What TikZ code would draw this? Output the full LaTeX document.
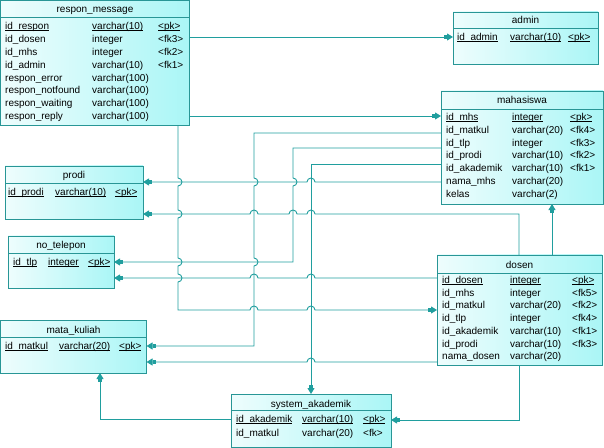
\documentclass[tikz,border=0pt]{standalone}
\usepackage{fontspec}
\setmainfont{Liberation Sans}
\usetikzlibrary{arrows.meta}
\definecolor{ln}{RGB}{32,158,158}
\definecolor{bd}{RGB}{40,150,150}
\definecolor{fa}{RGB}{238,253,253}
\definecolor{fb}{RGB}{170,246,246}
\newlength\ulw
\newcommand{\ul}[1]{\settowidth{\ulw}{#1}\rlap{\rule[-1.6bp]{\ulw}{0.7bp}}#1}
% table box: name, x, y, w, h, separator offset, title baseline, title
\newcommand{\ertable}[8]{%
  \node[tbl, minimum width=#4bp, minimum height=#5bp] (#1) at (#2,#3) {};
  \draw[bd, line width=0.9bp] ([yshift=-#6bp]#1.north west) -- ([yshift=-#6bp]#1.north east);
  \node[ttl] (#1-t) at (#1.north |- 0,#7) {#8};}
% row: prefix, index, baseline, x1, x2, x3, name, type, key
\newcommand{\erowk}[9]{%
  \node[cell] (#1-#2a) at (#4,#3) {#7};
  \node[cell] (#1-#2b) at (#5,#3) {#8};
  \node[cell] (#1-#2c) at (#6,#3) {#9};}
\newcommand{\erow}[7]{%
  \node[cell] (#1-#2a) at (#4,#3) {#6};
  \node[cell] (#1-#2b) at (#5,#3) {#7};}
\begin{document}
\begin{tikzpicture}[x=1bp,y=-1bp,
  tbl/.style={draw=bd, line width=0.9bp, left color=fa, right color=fb, anchor=north west, inner sep=0pt, outer sep=0pt},
  ttl/.style={anchor=base, inner sep=0pt, font=\fontsize{10bp}{12bp}\selectfont},
  cell/.style={anchor=base west, inner sep=0pt, font=\fontsize{10bp}{12bp}\selectfont},
  fk/.style={draw=ln, line width=0.9bp, -{Rectangle[length=3bp,width=4bp,fill=ln]Triangle[length=6bp,width=7bp,fill=ln]}},
  hop/.style={}]
\useasboundingbox (0,0) rectangle (604,448);

% ---------- respon_message
\ertable{rm}{0.5}{0.5}{189}{125}{17}{12.5}{respon\_message}
\erowk{rm}{1}{29.5}{5}{92}{158}{\ul{id\_respon}}{\ul{varchar(10)}}{\ul{<pk>}}
\erowk{rm}{2}{42.4}{5}{92}{158}{id\_dosen}{integer}{<fk3>}
\erowk{rm}{3}{55.3}{5}{92}{158}{id\_mhs}{integer}{<fk2>}
\erowk{rm}{4}{68.2}{5}{92}{158}{id\_admin}{varchar(10)}{<fk1>}
\erow{rm}{5}{81.1}{5}{92}{respon\_error}{varchar(100)}
\erow{rm}{6}{94}{5}{92}{respon\_notfound}{varchar(100)}
\erow{rm}{7}{106.9}{5}{92}{respon\_waiting}{varchar(100)}
\erow{rm}{8}{119.8}{5}{92}{respon\_reply}{varchar(100)}

% ---------- admin
\ertable{adm}{453}{12}{145}{52}{16}{24}{admin}
\erowk{adm}{1}{40.5}{457}{510}{568}{\ul{id\_admin}}{\ul{varchar(10)}}{\ul{<pk>}}

% ---------- mahasiswa
\ertable{mhs}{441}{91}{162}{113}{18}{104}{mahasiswa}
\erowk{mhs}{1}{120.5}{446}{512}{570}{\ul{id\_mhs}}{\ul{integer}}{\ul{<pk>}}
\erowk{mhs}{2}{133.3}{446}{512}{570}{id\_matkul}{varchar(20)}{<fk4>}
\erowk{mhs}{3}{146.1}{446}{512}{570}{id\_tlp}{integer}{<fk3>}
\erowk{mhs}{4}{158.9}{446}{512}{570}{id\_prodi}{varchar(10)}{<fk2>}
\erowk{mhs}{5}{171.7}{446}{512}{570}{id\_akademik}{varchar(10)}{<fk1>}
\erow{mhs}{6}{184.5}{446}{512}{nama\_mhs}{varchar(20)}
\erow{mhs}{7}{197.3}{446}{512}{kelas}{varchar(2)}

% ---------- prodi
\ertable{prd}{5}{166}{138}{53}{17}{179}{prodi}
\erowk{prd}{1}{195.5}{8}{55}{115}{\ul{id\_prodi}}{\ul{varchar(10)}}{\ul{<pk>}}

% ---------- no_telepon
\ertable{tlp}{8}{236}{106}{52}{17}{249}{no\_telepon}
\erowk{tlp}{1}{265.5}{13}{48}{88}{\ul{id\_tlp}}{\ul{integer}}{\ul{<pk>}}

% ---------- mata_kuliah
\ertable{mk}{0.5}{320}{146}{53}{17}{333}{mata\_kuliah}
\erowk{mk}{1}{349.5}{5}{59}{119}{\ul{id\_matkul}}{\ul{varchar(20)}}{\ul{<pk>}}

% ---------- dosen
\ertable{dsn}{437}{255}{165}{110}{18}{269}{dosen}
\erowk{dsn}{1}{283.5}{442}{510}{572}{\ul{id\_dosen}}{\ul{integer}}{\ul{<pk>}}
\erowk{dsn}{2}{296.2}{442}{510}{572}{id\_mhs}{integer}{<fk5>}
\erowk{dsn}{3}{308.9}{442}{510}{572}{id\_matkul}{varchar(20)}{<fk2>}
\erowk{dsn}{4}{321.6}{442}{510}{572}{id\_tlp}{integer}{<fk4>}
\erowk{dsn}{5}{334.3}{442}{510}{572}{id\_akademik}{varchar(10)}{<fk1>}
\erowk{dsn}{6}{347}{442}{510}{572}{id\_prodi}{varchar(10)}{<fk3>}
\erow{dsn}{7}{359.7}{442}{510}{nama\_dosen}{varchar(20)}

% ---------- system_akademik
\ertable{sa}{231}{394}{160}{53}{16}{407.5}{system\_akademik}
\erowk{sa}{1}{422.5}{236}{302}{363}{\ul{id\_akademik}}{\ul{varchar(10)}}{\ul{<pk>}}
\erowk{sa}{2}{436}{236}{302}{363}{id\_matkul}{varchar(20)}{<fk>}

% ---------- connectors
% respon_message -> admin
\draw[fk] (rm.east |- 0,37) -- (adm.west |- 0,37);
% respon_message -> mahasiswa
\draw[fk] (rm.east |- 0,116) -- (mhs.west |- 0,116);
% respon_message -> dosen
\draw[fk] (rm.south -| 178,0) -- (178,178) arc[start angle=90,end angle=-90,radius=4bp]
  -- (178,210) arc[start angle=90,end angle=-90,radius=4bp]
  -- (178,258) arc[start angle=90,end angle=-90,radius=4bp]
  -- (178,274) arc[start angle=90,end angle=-90,radius=4bp]
  -- (178,310) -- (250,310) arc[start angle=180,end angle=0,radius=4bp]
  -- (307,310) arc[start angle=180,end angle=0,radius=4bp]
  -- (dsn.west |- 0,310);
% mahasiswa -> mata_kuliah
\draw[fk] (mhs.west |- 0,133) -- (254,133)
  -- (254,178) arc[start angle=90,end angle=-90,radius=4bp]
  -- (254,258) arc[start angle=90,end angle=-90,radius=4bp]
  -- (254,346) -- (mk.east |- 0,346);
% mahasiswa -> no_telepon
\draw[fk] (mhs.west |- 0,148) -- (293,148)
  -- (293,178) arc[start angle=90,end angle=-90,radius=4bp]
  -- (293,262) -- (tlp.east |- 0,262);
% mahasiswa -> system_akademik
\draw[fk] (mhs.west |- 0,164) -- (311,164) -- (sa.north -| 311,0);
% mahasiswa -> prodi
\draw[fk] (mhs.west |- 0,182) -- (315,182) arc[start angle=0,end angle=180,radius=4bp]
  -- (prd.east |- 0,182);
% dosen -> mahasiswa
\draw[fk] (dsn.north -| 552,0) -- (mhs.south -| 552,0);
% dosen -> prodi
\draw[fk] (dsn.north -| 519,0) -- (519,214)
  -- (315,214) arc[start angle=0,end angle=180,radius=4bp]
  -- (297,214) arc[start angle=0,end angle=180,radius=4bp]
  -- (258,214) arc[start angle=0,end angle=180,radius=4bp]
  -- (prd.east |- 0,214);
% dosen -> no_telepon
\draw[fk] (dsn.west |- 0,278)
  -- (315,278) arc[start angle=0,end angle=180,radius=4bp]
  -- (258,278) arc[start angle=0,end angle=180,radius=4bp]
  -- (tlp.east |- 0,278);
% dosen -> mata_kuliah
\draw[fk] (dsn.west |- 0,362)
  -- (315,362) arc[start angle=0,end angle=180,radius=4bp]
  -- (mk.east |- 0,362);
% dosen -> system_akademik
\draw[fk] (dsn.south -| 519,0) -- (519,420) -- (sa.east |- 0,420);
% system_akademik -> mata_kuliah
\draw[fk] (sa.west |- 0,419) -- (100,419) -- (mk.south -| 100,0);
\end{tikzpicture}
\end{document}
